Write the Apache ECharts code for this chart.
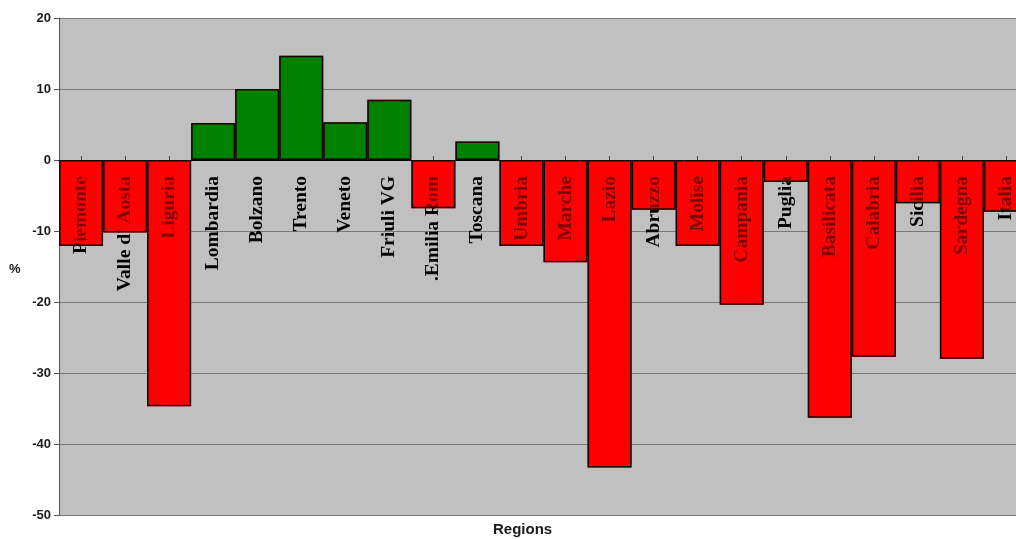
<!DOCTYPE html>
<html>
<head>
<meta charset="utf-8">
<title>Regions</title>
<script src="https://cdn.jsdelivr.net/npm/echarts@6/dist/echarts.min.js"></script>
<style>
  html, body { margin: 0; padding: 0; background: #ffffff; }
  #chart { width: 1016px; height: 539px; }
</style>
</head>
<body>
<div id="chart"></div>
<script>
// Percentage change by region
const categories = [
  'Piemonte', "Valle d' Aosta", 'Liguria', 'Lombardia', 'Bolzano', 'Trento',
  'Veneto', 'Friuli VG', '.Emilia Rom', 'Toscana', 'Umbria', 'Marche',
  'Lazio', 'Abruzzo', 'Molise', 'Campania', 'Puglia', 'Basilicata',
  'Calabria', 'Sicilia', 'Sardegna', 'Italia'
];
const values = [
  -12.1, -10.2, -34.7, 5.2, 10.0, 14.7,
  5.3, 8.5, -6.8, 2.6, -12.1, -14.4,
  -43.3, -7.0, -12.1, -20.4, -3.1, -36.3,
  -27.7, -6.1, -28.0, -7.3
];
const yMin = -50;
const yMax = 20;
const yStep = 10;

// plot frame
const H = 539, gridTop = 18, gridBottom = 24;
const plotH = H - gridTop - gridBottom;
// lift the category axis from the plot bottom up to the zero line
const zeroLift = plotH * (0 - yMin) / (yMax - yMin);

const chart = echarts.init(document.getElementById('chart'), null, { renderer: 'canvas' });

const fillFor = v => (v >= 0 ? '#008000' : '#ff0000');
const veilFor = v => (v >= 0 ? 'rgba(0,128,0,0.5)' : 'rgba(255,0,0,0.5)');

chart.setOption({
  animation: false,
  backgroundColor: '#ffffff',
  grid: {
    left: 59,
    right: -12,
    top: gridTop,
    bottom: gridBottom,
    containLabel: false,
    outerBoundsMode: 'none',
    show: true,
    backgroundColor: '#c0c0c0',
    borderWidth: 0
  },
  xAxis: {
    type: 'category',
    data: categories,
    position: 'bottom',
    offset: -zeroLift,
    z: 3,
    axisLine: { onZero: false, lineStyle: { color: '#000000', width: 1 } },
    axisTick: { show: true, alignWithLabel: true, inside: true, length: 4, lineStyle: { color: '#444444' } },
    axisLabel: {
      interval: 0,
      rotate: 90,
      margin: 16,
      color: '#000000',
      fontFamily: 'Liberation Serif',
      fontWeight: 'bold',
      fontSize: 19.5
    },
    splitLine: { show: false }
  },
  yAxis: {
    type: 'value',
    min: yMin,
    max: yMax,
    interval: yStep,
    axisLine: { show: true, lineStyle: { color: '#555555', width: 1 } },
    axisTick: { show: true, length: 5, lineStyle: { color: '#555555' } },
    axisLabel: {
      margin: 8,
      color: '#1a1a1a',
      fontFamily: 'Liberation Sans',
      fontWeight: 'bold',
      fontSize: 13
    },
    splitLine: { show: true, lineStyle: { color: '#777777', width: 1 } }
  },
  series: [
    {
      // solid bar fill, beneath the category labels
      type: 'bar',
      z: 2,
      barCategoryGap: '0%',
      data: values.map(v => ({ value: v, itemStyle: { color: fillFor(v) } })),
      silent: true
    },
    {
      // translucent veil with outline, over the category labels
      type: 'bar',
      z: 4,
      barGap: '-100%',
      barCategoryGap: '0%',
      data: values.map(v => ({
        value: v,
        itemStyle: { color: veilFor(v), borderColor: '#1a0000', borderWidth: 1.5 }
      })),
      silent: true
    }
  ],
  graphic: [
    {
      type: 'text',
      left: 9,
      top: 263,
      style: {
        text: '%',
        fill: '#1a1a1a',
        font: 'bold 13px "Liberation Sans"'
      }
    },
    {
      type: 'text',
      left: 493,
      top: 522,
      style: {
        text: 'Regions',
        fill: '#1a1a1a',
        font: 'bold 15px "Liberation Sans"'
      }
    }
  ]
});
</script>
</body>
</html>
